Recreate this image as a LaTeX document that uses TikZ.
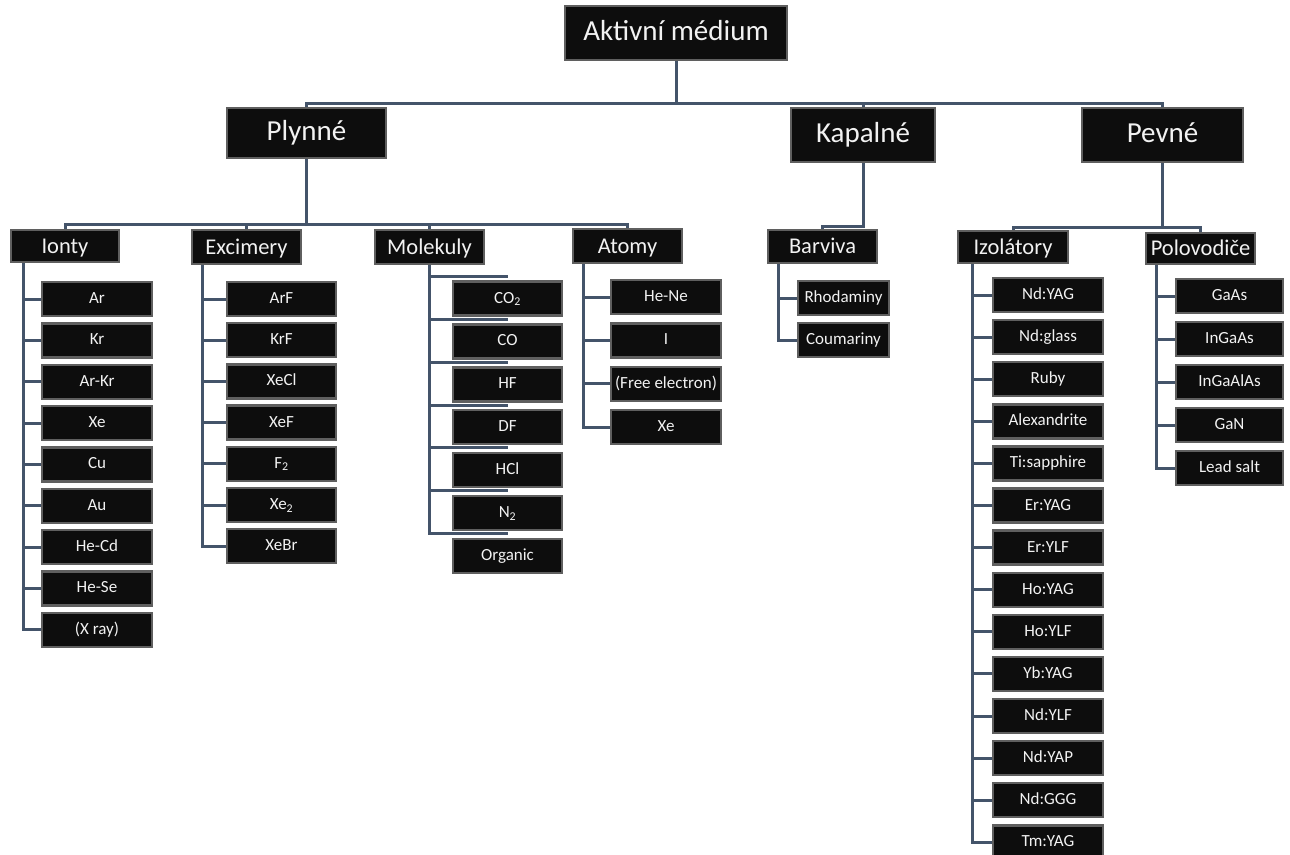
\documentclass[tikz,border=0pt]{standalone}
\usepackage{fontspec}
\setmainfont{Carlito}
\usetikzlibrary{backgrounds,calc}
\definecolor{boxfill}{HTML}{0D0D0D}
\definecolor{boxline}{HTML}{5F5F5F}
\definecolor{boxtext}{HTML}{F2F2F2}
\definecolor{wire}{HTML}{44546A}

\begin{document}
\begin{tikzpicture}[x=1pt,y=-1pt,
  box/.style={draw=boxline, line width=2.4pt, fill=boxfill, text=boxtext, inner sep=0pt},
  topbox/.style={box, font=\fontsize{29}{34}\selectfont, text height=20pt, text depth=4.5pt},
  midbox/.style={box, font=\fontsize{22.5}{27}\selectfont, text height=15pt, text depth=0.5pt},
  leaf/.style={box, font=\fontsize{17}{20}\selectfont, text height=11pt, text depth=2pt,
    minimum width=110pt, minimum height=34pt},
  conn/.style={draw=wire, line width=3pt}]

\useasboundingbox (0,0) rectangle (1290,854);

% level 0 and 1
\node[topbox, minimum width=222pt, minimum height=54pt] (root) at (676,33) {Aktivní médium};
\node[topbox, minimum width=159pt, minimum height=50pt] (plyn) at (306.5,133) {Plynné};
\node[topbox, minimum width=144pt, minimum height=54pt] (kap) at (863,135) {Kapalné};
\node[topbox, minimum width=161pt, minimum height=54pt] (pev) at (1162.5,135) {Pevné};

% level 2
\node[midbox, minimum width=108pt, minimum height=32pt] (ionty) at (65,246) {Ionty};
\node[midbox, minimum width=109pt, minimum height=34pt] (exc) at (246.5,247) {Excimery};
\node[midbox, minimum width=109pt, minimum height=34pt] (mol) at (429.5,247) {Molekuly};
\node[midbox, minimum width=109pt, minimum height=34pt] (atom) at (627.5,246) {Atomy};
\node[midbox, minimum width=109pt, minimum height=33pt] (barv) at (822.5,246.5) {Barviva};
\node[midbox, minimum width=110pt, minimum height=32pt] (izol) at (1013,247) {Izolátory};
\node[midbox, minimum width=109pt, minimum height=31pt] (polo) at (1200.5,248.5) {Polovodiče};

% leaves
\foreach \t [count=\k] in {Ar, Kr, Ar-Kr, Xe, Cu, Au, He-Cd, He-Se, {(X ray)}}
  \node[leaf] (ion\k) at (97, {299+41.35*(\k-1)}) {\t};
\foreach \t [count=\k] in {ArF, KrF, XeCl, XeF, F\textsubscript{2}, Xe\textsubscript{2}, XeBr}
  \node[leaf, minimum width=109pt] (exc\k) at (281.5, {299+41.2*(\k-1)}) {\t};
\foreach \t [count=\k] in {CO\textsubscript{2}, CO, HF, DF, HCl, N\textsubscript{2}, Organic}
  \node[leaf, minimum width=109pt] (mol\k) at (507.5, {298.5+42.9*(\k-1)}) {\t};
\foreach \t [count=\k] in {He-Ne, I, {(Free electron)}, Xe}
  \node[leaf] (atom\k) at (666, {297+43.4*(\k-1)}) {\t};
\foreach \t [count=\k] in {Rhodaminy, Coumariny}
  \node[leaf, minimum width=91pt] (barv\k) at (843.5, {298+42*(\k-1)}) {\t};
\foreach \t [count=\k] in {Nd:YAG, Nd:glass, Ruby, Alexandrite, Ti:sapphire, Er:YAG, Er:YLF,
    Ho:YAG, Ho:YLF, Yb:YAG, Nd:YLF, Nd:YAP, Nd:GGG, Tm:YAG}
  \node[leaf] (izol\k) at (1048, {295+42.1*(\k-1)}) {\t};
\foreach \t [count=\k] in {GaAs, InGaAs, InGaAlAs, GaN, Lead salt}
  \node[leaf, minimum width=107pt] (polo\k) at (1229.5, {296+43*(\k-1)}) {\t};

% bus levels and branch lines
\coordinate (bus0) at (0,103);
\coordinate (busP) at (0,224);
\coordinate (busK) at (0,226);
\coordinate (busS) at (0,227);
\coordinate (vI) at (23,0);
\coordinate (vE) at (202,0);
\coordinate (vA) at (583,0);
\coordinate (vB) at (778,0);
\coordinate (vZ) at (972,0);
\coordinate (vP) at (1156,0);

\begin{scope}[on background layer]
  \fill[white] (0,0) rectangle (1290,854);
  % top level
  \foreach \c in {plyn, kap, pev}
    \draw[conn] (root.south) -- (root.south |- bus0) -| (\c.north);
  % gases
  \foreach \c in {ionty, exc, mol, atom}
    \draw[conn] (plyn.south) -- (plyn.south |- busP) -| (\c.north);
  % liquids
  \draw[conn] (kap.south) -- (kap.south |- busK) -| (barv.north);
  % solids
  \foreach \c in {izol, polo}
    \draw[conn] (pev.south) -- (pev.south |- busS) -| (\c.north);
  % leaf branches
  \foreach \k in {1,...,9}
    \draw[conn] (ionty.south -| vI) |- (ion\k.west);
  \foreach \k in {1,...,7}
    \draw[conn] (exc.south -| vE) |- (exc\k.west);
  \foreach \k in {1,...,7}
    \draw[conn] (mol.south) |- ($(mol\k.north)+(0,-4)$);
  \foreach \k in {1,...,4}
    \draw[conn] (atom.south -| vA) |- (atom\k.west);
  \foreach \k in {1,2}
    \draw[conn] (barv.south -| vB) |- (barv\k.west);
  \foreach \k in {1,...,14}
    \draw[conn] (izol.south -| vZ) |- (izol\k.west);
  \foreach \k in {1,...,5}
    \draw[conn] (polo.south -| vP) |- (polo\k.west);
\end{scope}
\end{tikzpicture}
\end{document}
